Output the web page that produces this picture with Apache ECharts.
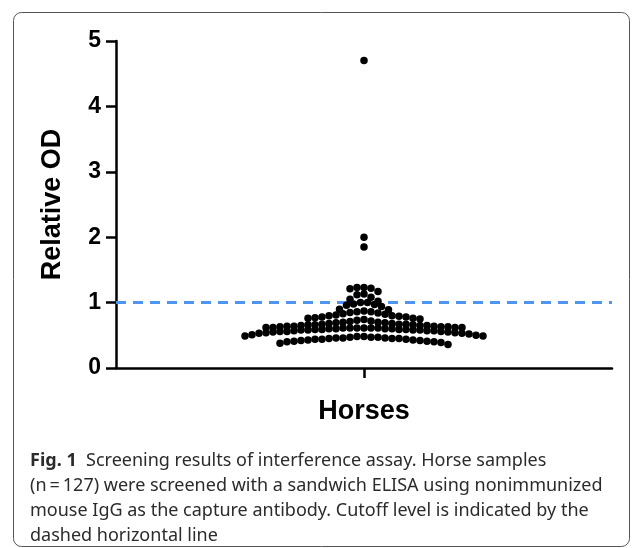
<!DOCTYPE html>
<html>
<head>
<meta charset="utf-8">
<script src="https://cdn.jsdelivr.net/npm/echarts@6/dist/echarts.min.js"></script>
<style>
html,body{margin:0;padding:0;background:#fff;}
#chart{width:634px;height:548px;}
</style>
</head>
<body>
<div id="chart"></div>
<script>
// ---- data ----
const categories = ['Horses'];
const yTicks = [0, 1, 2, 3, 4, 5];
const cutoff = 1;
const outliers = [4.70, 2.00, 1.85];
const topValues = [1.23, 1.23, 1.22, 1.21, 1.17, 1.13, 1.12, 1.08, 1.05, 1.02];
const upperValues = [1.00, 1.00, 0.98, 0.97, 0.96, 0.94, 0.90, 0.89,
  0.87, 0.86, 0.86, 0.85, 0.84, 0.83, 0.82, 0.81, 0.80, 0.80, 0.79, 0.78, 0.78, 0.77, 0.76, 0.76, 0.75];
const midValues = [0.74, 0.73, 0.72, 0.71, 0.70, 0.70, 0.69, 0.69, 0.68, 0.68, 0.67, 0.67, 0.67, 0.66, 0.66, 0.66,
  0.65, 0.65, 0.65, 0.64, 0.64, 0.64, 0.63, 0.63, 0.63, 0.62, 0.62, 0.62, 0.62];
const lowValues = [0.61, 0.61, 0.61, 0.61, 0.61, 0.61, 0.60, 0.60, 0.60, 0.60, 0.59, 0.59, 0.59, 0.59, 0.58, 0.58, 0.58, 0.58,
  0.57, 0.57, 0.57, 0.56, 0.56, 0.56, 0.55, 0.55, 0.54, 0.54, 0.53, 0.53, 0.52, 0.51, 0.50, 0.49, 0.49];
const bottomValues = [0.48, 0.48, 0.47, 0.47, 0.47, 0.46, 0.46, 0.46, 0.45, 0.45, 0.45, 0.44, 0.44, 0.44,
  0.43, 0.43, 0.42, 0.42, 0.41, 0.41, 0.40, 0.40, 0.39, 0.38, 0.36];
const relativeOD = [].concat(outliers, topValues, upperValues, midValues, lowValues, bottomValues);

// ---- layout: Prism-like scatter dot plot (rows by value bins) ----
const gridLeft = 116, gridRight = 22, W = 634;
const plotW = W - gridLeft - gridRight;
const xUnitPerPx = 2 / plotW;   // hidden x axis spans -1..1
const dotSpacing = 7;           // px
const binStart = 0.36, binSize = 0.13;
function swarm(values) {
  const bins = {};
  values.forEach(v => {
    const b = Math.floor((v - binStart) / binSize + 1e-9);
    (bins[b] = bins[b] || []).push(v);
  });
  const out = [];
  Object.keys(bins).forEach(k => {
    const arr = bins[k].slice().sort((a, b) => b - a);
    const n = arr.length;
    const pos = [];
    for (let i = 0; i < n; i++) pos.push(i - (n - 1) / 2);
    pos.sort((a, b) => Math.abs(a) - Math.abs(b) || a - b);
    arr.forEach((v, i) => out.push([pos[i] * dotSpacing * xUnitPerPx, v]));
  });
  return out;
}
const points = swarm(relativeOD);

const chart = echarts.init(document.getElementById('chart'), null, {renderer: 'canvas'});
const axisFont = 'Liberation Sans, Arial, sans-serif';
const capFont = '"Noto Sans", sans-serif';

chart.setOption({
  animation: false,
  grid: {left: gridLeft, right: gridRight, top: 41, bottom: 180, containLabel: false},
  xAxis: [{
    type: 'category',
    data: categories,
    boundaryGap: true,
    axisLine: {show: true, onZero: false, lineStyle: {color: '#000', width: 2.5}},
    axisTick: {show: true, alignWithLabel: true, length: 10, lineStyle: {color: '#000', width: 2.5}},
    axisLabel: {show: false},
    splitLine: {show: false},
    name: categories[0],
    nameLocation: 'middle',
    nameGap: 30,
    nameTextStyle: {fontFamily: axisFont, fontWeight: 'bold', fontSize: 27, color: '#000'}
  }, {
    type: 'value', min: -1, max: 1, show: false
  }],
  yAxis: {
    type: 'value',
    min: yTicks[0], max: yTicks[yTicks.length - 1], interval: 1,
    axisLine: {show: true, onZero: false, lineStyle: {color: '#000', width: 2.5}},
    axisTick: {show: true, length: 10, lineStyle: {color: '#000', width: 2.5}},
    axisLabel: {margin: 15, fontFamily: axisFont, fontWeight: 'bold', fontSize: 23, color: '#000'},
    splitLine: {show: false},
    name: 'Relative OD',
    nameLocation: 'middle',
    nameGap: 50,
    nameTextStyle: {fontFamily: axisFont, fontWeight: 'bold', fontSize: 27, color: '#000'}
  },
  series: [{
    type: 'scatter',
    xAxisIndex: 1,
    data: points,
    symbol: 'circle',
    symbolSize: 7.5,
    itemStyle: {color: '#000', opacity: 1},
    z: 3,
    markLine: {
      silent: true,
      symbol: 'none',
      label: {show: false},
      lineStyle: {color: '#4F94EF', type: [10, 7], width: 3},
      data: [{yAxis: cutoff}],
      z: 2
    }
  }],
  graphic: [
    {type: 'rect', shape: {x: 13.5, y: 12.5, width: 616, height: 534, r: 8},
     style: {fill: 'none', stroke: '#555', lineWidth: 1}, silent: true},
    {type: 'text', left: 30, top: 448,
     style: {
       text: '{b|Fig. 1}  Screening results of interference assay. Horse samples\n(n\u2009=\u2009127) were screened with a sandwich ELISA using nonimmunized\nmouse IgG as the capture antibody. Cutoff level is indicated by the\ndashed horizontal line',
       font: '18px ' + capFont,
       fill: '#2b2b2b',
       lineHeight: 25,
       rich: {b: {fontWeight: 'bold', fontFamily: capFont, fontSize: 18, fill: '#2b2b2b', lineHeight: 25}}
     }}
  ]
});
</script>
</body>
</html>
